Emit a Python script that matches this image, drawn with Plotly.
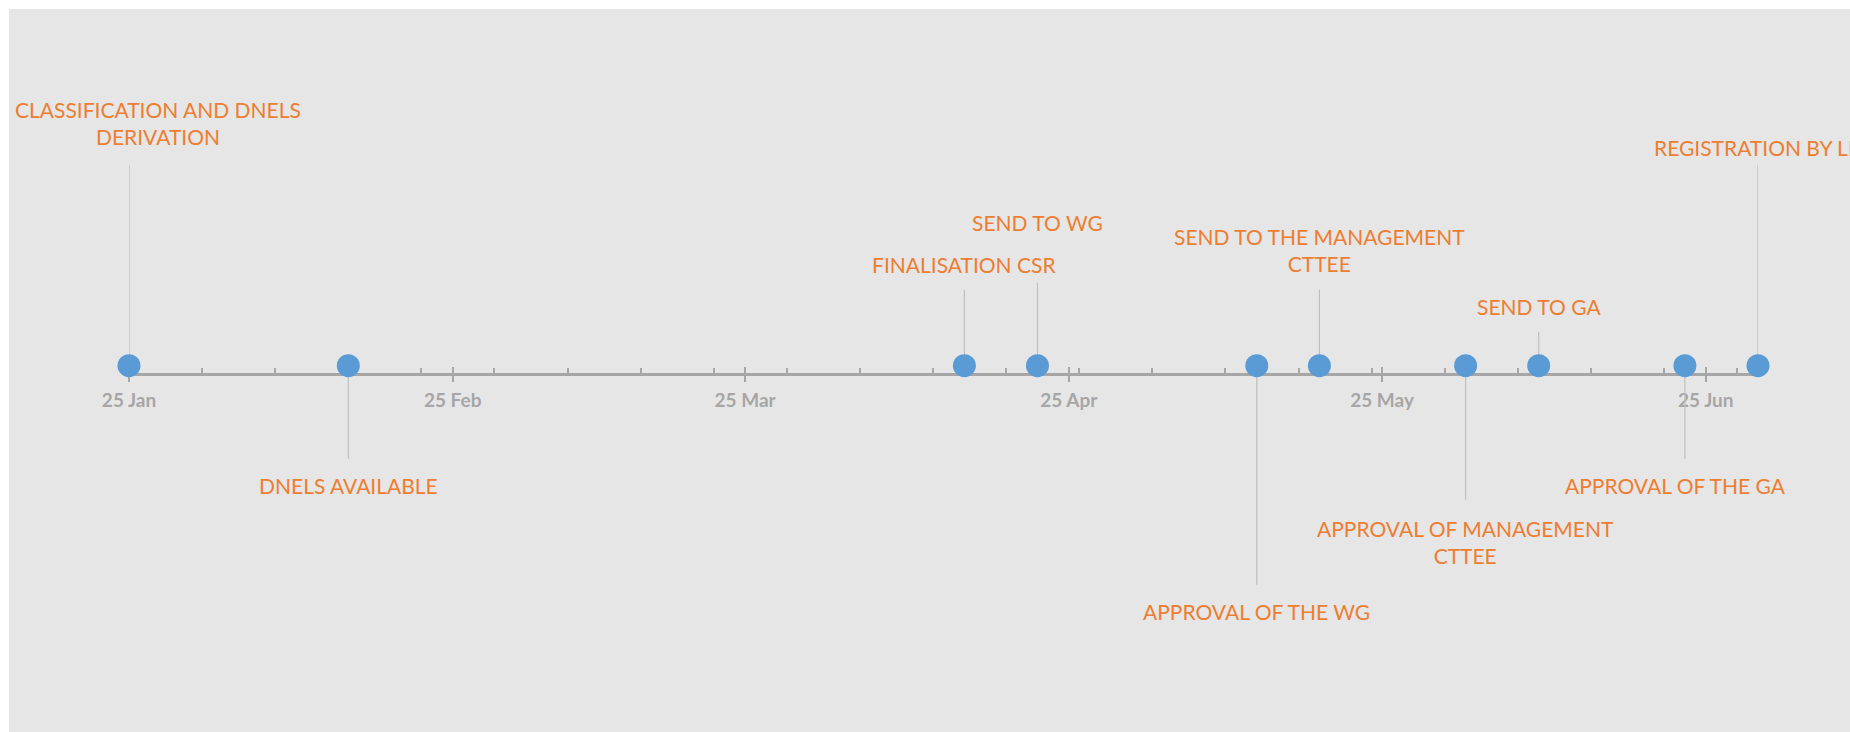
import plotly.graph_objects as go

# ---------------- data ----------------
EVENTS = [
    "CLASSIFICATION AND DNELS<br>DERIVATION",
    "DNELS AVAILABLE",
    "FINALISATION CSR",
    "SEND TO WG",
    "APPROVAL OF THE WG",
    "SEND TO THE MANAGEMENT<br>CTTEE",
    "APPROVAL OF MANAGEMENT<br>CTTEE",
    "SEND TO GA",
    "APPROVAL OF THE GA",
    "REGISTRATION BY LR",
]
DATES = [
    "2019-01-25", "2019-02-15", "2019-04-15", "2019-04-22", "2019-05-13",
    "2019-05-19", "2019-06-02", "2019-06-09", "2019-06-23", "2019-06-30",
]
HEIGHTS = [201, -93, 76, 83, -219, 76, -134, 34, -93, 201]
TICK_DATES = ["2019-01-25", "2019-02-25", "2019-03-25", "2019-04-25", "2019-05-25", "2019-06-25"]
TICK_TEXT = ["25 Jan", "25 Feb", "25 Mar", "25 Apr", "25 May", "25 Jun"]
AXIS_START = "2019-01-25"
AXIS_END = "2019-06-30"

# ---------------- styling ----------------
W, H = 1850, 732
ML, MR = 129, 92
MARKER_ROW = 365.7          # pixel row of markers (y = 0)
AXIS_ROW = 374.0            # pixel row of the axis line
LABEL_GAP = [42, 27, 25, 60, 27, 40, 42, 25, 27, 17.5]
LABEL_XSHIFT = [29, 0, 0, 0, 0, 0, 0, 0, -9, 0]
ORANGE = "#ED7D31"
BLUE = "#5B9BD5"
GREY_AX = "#A6A6A6"
STEM = "#BFBFBF"
BG = "#E6E6E6"
LABEL_FONT = dict(family="Lato, 'Open Sans', sans-serif", size=21, color=ORANGE)

y_top = MARKER_ROW
y_bot = MARKER_ROW - H
axis_pos = (H - AXIS_ROW) / H

fig = go.Figure()

# stems (drawn first, on the main x axis)
sx, sy = [], []
for d, h in zip(DATES, HEIGHTS):
    sx += [d, d, None]
    sy += [0, h, None]
fig.add_trace(go.Scatter(
    x=sx, y=sy, mode="lines", xaxis="x", yaxis="y",
    line=dict(color=STEM, width=1.2), cliponaxis=False,
    hoverinfo="skip", showlegend=False,
))

# markers (overlay axis, drawn on top of stems and ticks)
fig.add_trace(go.Scatter(
    x=DATES, y=[0] * len(DATES), mode="markers", xaxis="x2", yaxis="y",
    marker=dict(size=23, color=BLUE, line=dict(width=0)),
    cliponaxis=False, hoverinfo="skip", showlegend=False,
))

# labels
for i, (txt, d, h) in enumerate(zip(EVENTS, DATES, HEIGHTS)):
    sign = 1 if h > 0 else -1
    fig.add_annotation(
        x=d, y=h, xref="x", yref="y", text=txt, showarrow=False,
        font=LABEL_FONT, align="center", xanchor="center", yanchor="middle",
        yshift=sign * LABEL_GAP[i], xshift=LABEL_XSHIFT[i],
    )

plot_w = W - ML - MR
fig.add_shape(
    type="rect", xref="paper", yref="paper", layer="below",
    x0=(9 - ML) / plot_w, x1=(W - ML + 5) / plot_w,
    y0=-0.01, y1=(H - 9) / H,
    fillcolor=BG, line=dict(width=0),
)

fig.update_layout(
    width=W, height=H,
    margin=dict(l=ML, r=MR, t=0, b=0, pad=0),
    paper_bgcolor="white",
    plot_bgcolor="rgba(0,0,0,0)",
    showlegend=False,
    hovermode=False,
    xaxis=dict(
        type="date", range=[AXIS_START, AXIS_END],
        anchor="free", position=axis_pos, layer="below traces",
        showgrid=False, zeroline=False,
        showline=True, linecolor=GREY_AX, linewidth=2.5,
        tickmode="array", tickvals=TICK_DATES, ticktext=TICK_TEXT,
        ticks="outside", ticklen=6, tickwidth=2, tickcolor=GREY_AX,
        tickfont=dict(family="Lato, sans-serif", size=19, color=GREY_AX, weight="bold"),
        ticklabelstandoff=2,
        minor=dict(ticks="inside", ticklen=5, tickwidth=1.5, tickcolor=GREY_AX,
                   tick0=AXIS_START, dtick=7 * 86400000, showgrid=False),
    ),
    xaxis2=dict(
        type="date", range=[AXIS_START, AXIS_END], matches="x",
        overlaying="x", anchor="free", position=axis_pos, layer="below traces",
        showgrid=False, zeroline=False, showline=False,
        tickmode="array", tickvals=TICK_DATES, showticklabels=False,
        ticks="inside", ticklen=7, tickwidth=2, tickcolor=GREY_AX,
    ),
    yaxis=dict(range=[y_bot, y_top], visible=False, showgrid=False, zeroline=False),
)

fig.write_html("out.html")
